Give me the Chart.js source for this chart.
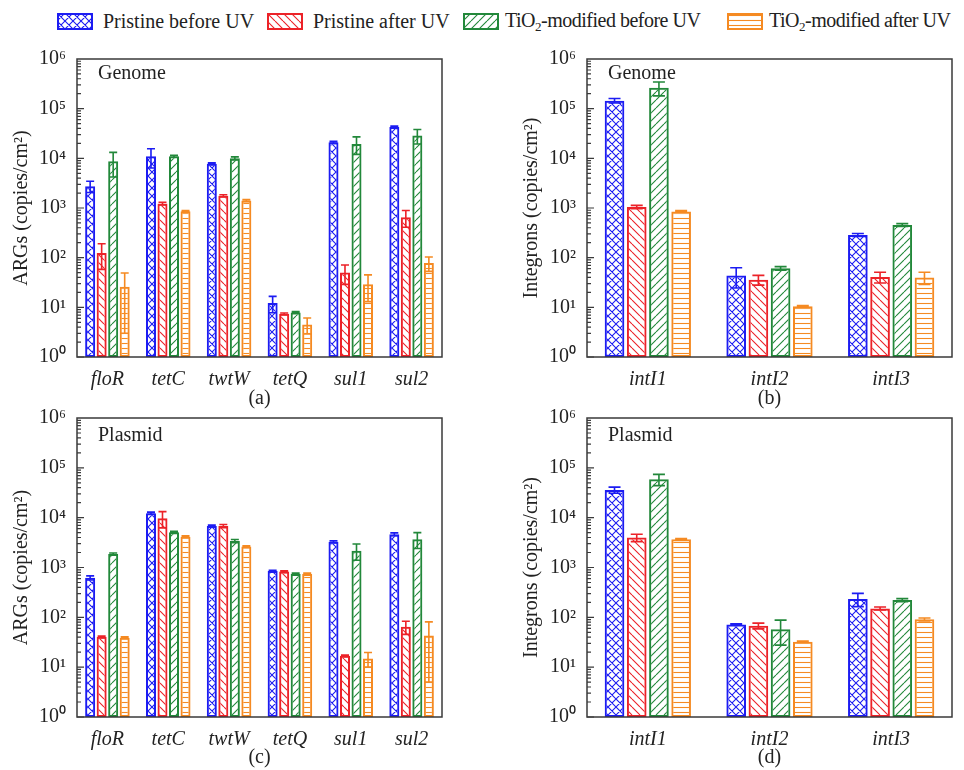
<!DOCTYPE html>
<html lang="en">
<head>
<meta charset="UTF-8">
<title>ARGs and integrons before/after UV</title>
<script src="https://cdn.jsdelivr.net/npm/chart.js"></script>
<style>
  body { margin:0; width:964px; height:770px; overflow:hidden; background:#fff; position:relative;
         font-family:"Liberation Serif", "Times New Roman", serif; color:#222; }
  .panel { position:absolute; }
  .item { position:absolute; top:11px; height:21px; display:flex; align-items:center; font-size:20px; white-space:nowrap; }
  .item sub { font-size:13px; vertical-align:-4px; }
</style>
</head>
<body>
<div id="legend"></div>
<div class="panel" style="left:0;top:36px;width:482px;height:375px"><canvas id="chartA"></canvas></div>
<div class="panel" style="left:480px;top:36px;width:484px;height:375px"><canvas id="chartB"></canvas></div>
<div class="panel" style="left:0;top:395px;width:482px;height:375px"><canvas id="chartC"></canvas></div>
<div class="panel" style="left:480px;top:395px;width:484px;height:375px"><canvas id="chartD"></canvas></div>

<script>
// ---- data ----
const argGenes = ['floR', 'tetC', 'twtW', 'tetQ', 'sul1', 'sul2'];
const intGenes = ['intI1', 'intI2', 'intI3'];
const seriesNames = ['Pristine before UV', 'Pristine after UV', 'TiO₂-modified before UV', 'TiO₂-modified after UV'];
const yTicks = [1, 10, 100, 1000, 10000, 100000, 1000000];

// (a) genome ARGs: rows = series, cols = genes
const genomeArgValues = [
  [2750, 11000, 7800, 12.2, 21000, 42600],
  [124, 1230, 1770, 7.4, 50, 650],
  [8700, 11000, 10000, 7.9, 19500, 28700],
  [26, 860, 1420, 4.5, 29, 78]
];
const genomeArgErrors = [
  [700, 4600, 300, 4.4, 1000, 2000],
  [66, 80, 80, 0.3, 21, 240],
  [4500, 500, 700, 0.3, 7500, 9300],
  [23, 30, 60, 1.6, 16, 25]
];

// (b) genome integrons
const genomeIntValues = [
  [145000, 43.5, 286],
  [1050, 36, 41],
  [263000, 61, 455],
  [855, 10.5, 40]
];
const genomeIntErrors = [
  [15000, 19, 20],
  [80, 8, 10],
  [82000, 5, 30],
  [30, 0.3, 11]
];

// (c) plasmid ARGs
const plasmidArgValues = [
  [620, 12300, 6780, 850, 3300, 4650],
  [40.6, 9740, 6780, 830, 17, 64.5],
  [1870, 5100, 3400, 740, 2180, 3700],
  [39, 4160, 2630, 740, 14.9, 43]
];
const plasmidArgErrors = [
  [60, 600, 300, 30, 150, 300],
  [1.5, 3500, 500, 30, 0.5, 19],
  [80, 200, 250, 30, 780, 1300],
  [1.5, 150, 100, 30, 4.8, 38]
];

// (d) plasmid integrons
const plasmidIntValues = [
  [36000, 72, 233],
  [3980, 67.6, 151],
  [59000, 57.7, 222],
  [3700, 32.3, 91]
];
const plasmidIntErrors = [
  [5000, 2, 69],
  [670, 9, 10],
  [15000, 30, 15],
  [100, 1, 6]
];

// ---- styles ----
const colors = ['#1c1cf2', '#ec2228', '#22883a', '#f58a22'];
const hatchKinds = ['cross', 'back', 'slash', 'horiz'];
const sup = ['⁰', '¹', '²', '³', '⁴', '⁵', '⁶'];
const serif = '"Liberation Serif", "Times New Roman", serif';

function makeHatch(kind, color) {
  const s = kind === 'horiz' ? 5 : 8;
  const tile = document.createElement('canvas');
  tile.width = s; tile.height = s;
  const t = tile.getContext('2d');
  t.strokeStyle = color;
  t.lineWidth = 1.1;
  t.beginPath();
  if (kind === 'horiz') {
    t.moveTo(0, 2.5); t.lineTo(s, 2.5);
  } else {
    for (const k of [-s, 0, s]) {
      if (kind === 'slash' || kind === 'cross') { t.moveTo(k, s); t.lineTo(k + s, 0); }
      if (kind === 'back' || kind === 'cross') { t.moveTo(k, 0); t.lineTo(k + s, s); }
    }
  }
  t.stroke();
  return t.createPattern(tile, 'repeat');
}
const patterns = colors.map((c, i) => makeHatch(hatchKinds[i], c));

// legend (html)
const legendLeft = [57, 267, 463, 727];
const legendGap = [10, 10, 6, 6];
seriesNames.forEach((name, i) => {
  const item = document.createElement('div');
  item.className = 'item';
  item.style.left = legendLeft[i] + 'px';
  if (i >= 2) item.style.letterSpacing = '-0.5px';
  const sw = document.createElement('canvas');
  sw.width = 36; sw.height = 17;
  sw.style.marginRight = legendGap[i] + 'px';
  const c = sw.getContext('2d');
  c.fillStyle = patterns[i];
  c.fillRect(0, 0, 36, 17);
  c.strokeStyle = colors[i];
  c.lineWidth = 2;
  c.strokeRect(1, 1, 34, 15);
  item.appendChild(sw);
  const label = document.createElement('span');
  label.innerHTML = name.replace('₂', '<sub>2</sub>');
  item.appendChild(label);
  document.getElementById('legend').appendChild(item);
});

// error bars, frame, inward log ticks, panel tag
const panelPlugin = {
  id: 'panel',
  afterDatasetsDraw(chart) {
    const ctx = chart.ctx, y = chart.scales.y, area = chart.chartArea;
    chart.data.datasets.forEach((ds, i) => {
      chart.getDatasetMeta(i).data.forEach((bar, j) => {
        const v = ds.data[j], e = ds.errors[j];
        const top = y.getPixelForValue(v + e);
        const hasLow = v - e > 1;
        const low = hasLow ? y.getPixelForValue(v - e) : area.bottom;
        const cap = Math.min(6, bar.width * 0.4);
        ctx.save();
        ctx.strokeStyle = ds.borderColor;
        ctx.lineWidth = 1.6;
        ctx.beginPath();
        ctx.moveTo(bar.x, top); ctx.lineTo(bar.x, low);
        ctx.moveTo(bar.x - cap, top); ctx.lineTo(bar.x + cap, top);
        if (hasLow) { ctx.moveTo(bar.x - cap, low); ctx.lineTo(bar.x + cap, low); }
        ctx.stroke();
        ctx.restore();
      });
    });
  },
  afterDraw(chart, args, opts) {
    const ctx = chart.ctx, y = chart.scales.y, a = chart.chartArea;
    ctx.save();
    ctx.strokeStyle = '#3a3a3a';
    ctx.lineWidth = 1.5;
    ctx.strokeRect(a.left, a.top, a.right - a.left, a.bottom - a.top);
    ctx.beginPath();
    for (let d = 0; d < 6; d++) {
      for (let m = 1; m < 10; m++) {
        const py = y.getPixelForValue(m * Math.pow(10, d));
        const len = m === 1 ? 7 : 4;
        ctx.moveTo(a.left, py); ctx.lineTo(a.left + len, py);
      }
    }
    ctx.lineWidth = 1.2;
    ctx.stroke();
    ctx.fillStyle = '#222';
    ctx.font = '20px ' + serif;
    ctx.textBaseline = 'middle';
    ctx.fillText(opts.tag, a.left + opts.dx, a.top + opts.dy);
    ctx.restore();
  }
};

function makePanel(id, labels, values, errors, yTitle, xTitle, tag, padLeft, padRight, xHeight, catPct, barPct) {
  const datasets = values.map((row, i) => ({
    label: seriesNames[i],
    data: row,
    errors: errors[i],
    backgroundColor: patterns[i],
    borderColor: colors[i],
    borderWidth: 2,
    borderSkipped: false,
    categoryPercentage: catPct,
    barPercentage: barPct
  }));
  new Chart(document.getElementById(id), {
    type: 'bar',
    data: { labels: labels, datasets: datasets },
    plugins: [panelPlugin],
    options: {
      responsive: true,
      maintainAspectRatio: false,
      animation: false,
      layout: { padding: { left: padLeft, right: padRight, top: 23, bottom: 0 } },
      plugins: {
        legend: { display: false },
        tooltip: { enabled: false },
        panel: { tag: tag, dx: 21, dy: tag === 'Genome' ? 15 : 18 }
      },
      scales: {
        x: {
          grid: { display: false },
          border: { display: false },
          ticks: { color: '#222', padding: 3, font: { family: serif, size: 20, style: 'italic' } },
          title: { display: true, text: xTitle, color: '#222', padding: { top: 0, bottom: 0 }, font: { family: serif, size: 20 } },
          afterFit: s => { s.height = xHeight; }
        },
        y: {
          type: 'logarithmic',
          min: 1,
          max: 1000000,
          grid: { display: false },
          border: { display: false },
          afterBuildTicks: s => { s.ticks = yTicks.map(v => ({ value: v })); },
          ticks: {
            color: '#222',
            padding: 3,
            font: { family: serif, size: 20 },
            callback: v => '10' + sup[Math.round(Math.log10(v))]
          },
          title: { display: true, text: yTitle, color: '#222', padding: { top: 4, bottom: 4 }, font: { family: serif, size: 20 } },
          afterFit: s => { s.width = 71; }
        }
      }
    }
  });
}

makePanel('chartA', argGenes, genomeArgValues, genomeArgErrors, 'ARGs (copies/cm²)', '(a)', 'Genome', 6, 40, 54, 0.757, 0.87);
makePanel('chartB', intGenes, genomeIntValues, genomeIntErrors, 'Integrons (copies/cm²)', '(b)', 'Genome', 36, 12, 54, 0.73, 0.885);
makePanel('chartC', argGenes, plasmidArgValues, plasmidArgErrors, 'ARGs (copies/cm²)', '(c)', 'Plasmid', 6, 40, 53, 0.757, 0.87);
makePanel('chartD', intGenes, plasmidIntValues, plasmidIntErrors, 'Integrons (copies/cm²)', '(d)', 'Plasmid', 36, 12, 53, 0.73, 0.885);
</script>
</body>
</html>
